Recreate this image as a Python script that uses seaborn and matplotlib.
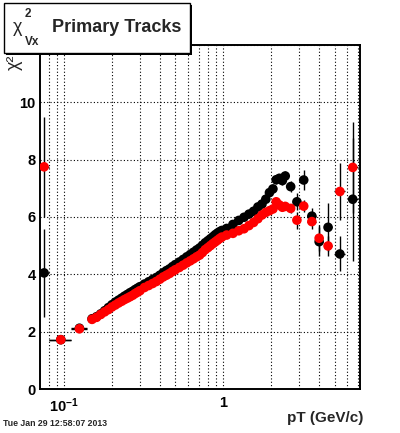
import pandas as pd
import seaborn as sns
import matplotlib
matplotlib.use("Agg")
import matplotlib.pyplot as plt
from matplotlib.patches import Rectangle
from matplotlib.ticker import MultipleLocator, LogLocator, NullFormatter

# dense pT bins (errors hidden under markers)
pt = [0.15, 0.16, 0.17, 0.18, 0.19, 0.20, 0.21, 0.22, 0.23, 0.24, 0.25, 0.26, 0.27, 0.28, 0.29, 0.30,
      0.32, 0.34, 0.36, 0.38, 0.40, 0.42, 0.44, 0.46, 0.48, 0.50,
      0.53, 0.56, 0.59, 0.62, 0.65, 0.68, 0.71, 0.74, 0.77, 0.80, 0.83, 0.86, 0.89, 0.92, 0.95, 0.98,
      1.05, 1.15, 1.25, 1.35, 1.45, 1.55, 1.65, 1.75, 1.85]
chi2_red = [2.43, 2.50, 2.60, 2.69, 2.77, 2.86, 2.93, 3.00, 3.06, 3.12, 3.17, 3.22, 3.27, 3.33, 3.38, 3.43,
            3.54, 3.61, 3.68, 3.75, 3.83, 3.91, 3.97, 4.03, 4.10, 4.16,
            4.24, 4.32, 4.40, 4.47, 4.54, 4.61, 4.67, 4.76, 4.86, 4.93, 5.00, 5.07, 5.13, 5.19, 5.25, 5.30,
            5.37, 5.43, 5.52, 5.59, 5.70, 5.81, 5.94, 6.07, 6.16]
chi2_black = [2.45, 2.52, 2.62, 2.73, 2.84, 2.94, 3.03, 3.10, 3.17, 3.24, 3.30, 3.36, 3.41, 3.47, 3.52, 3.57,
              3.66, 3.74, 3.82, 3.89, 3.97, 4.06, 4.13, 4.19, 4.27, 4.34,
              4.43, 4.52, 4.61, 4.69, 4.77, 4.85, 4.92, 5.01, 5.10, 5.17, 5.24, 5.31, 5.38, 5.44, 5.49, 5.53,
              5.60, 5.74, 5.88, 5.99, 6.10, 6.20, 6.35, 6.45, 6.62]

# bins with visible error bars
pt_e = [0.075, 0.0955, 0.125, 1.95, 2.05, 2.15, 2.25, 2.35, 2.45, 2.65, 2.9, 3.2, 3.6, 4.0, 4.55, 5.4, 6.5]
pt_lo = [0.070, 0.0805, 0.111, 1.90, 2.00, 2.10, 2.20, 2.30, 2.40, 2.55, 2.75, 3.05, 3.35, 3.80, 4.30, 4.95, 6.05]
pt_hi = [0.080, 0.111, 0.140, 2.00, 2.10, 2.20, 2.30, 2.40, 2.50, 2.75, 3.05, 3.35, 3.80, 4.25, 4.85, 5.85, 7.05]
red_e = [7.75, 1.72, 2.10, 6.22, 6.28, 6.53, 6.42, 6.34, 6.37, 6.30, 5.89, 6.38, 5.84, 5.26, 4.99, 6.89, 7.73]
red_sig = [1.74, 0.10, 0.10, 0.08, 0.09, 0.10, 0.11, 0.12, 0.14, 0.15, 0.30, 0.22, 0.25, 0.45, 0.35, 0.99, 1.60]
black_e = [4.05, 1.72, 2.12, 6.85, 6.98, 7.30, 7.35, 7.27, 7.43, 7.06, 6.53, 7.29, 6.03, 5.14, 5.64, 4.71, 6.62]
black_sig = [1.53, 0.10, 0.10, 0.10, 0.12, 0.14, 0.15, 0.16, 0.18, 0.20, 0.30, 0.35, 0.30, 0.50, 0.84, 0.61, 2.14]

y_ticks = [0, 2, 4, 6, 8, 10, 12]
y_ticklabels = ["0", "2", "4", "6", "8", "10", ""]  # "12" sits under the title pave

sns.set_style("white")
plt.rcParams["font.family"] = ["Liberation Sans", "DejaVu Sans"]
plt.rcParams["font.weight"] = "bold"
plt.rcParams["mathtext.fontset"] = "custom"
plt.rcParams["mathtext.rm"] = "Liberation Sans:bold"
plt.rcParams["mathtext.bf"] = "Liberation Sans:bold"

df = pd.concat([
  pd.DataFrame({"pt": pt + pt_e, "chi2": chi2_black + black_e, "set": "black"}),
  pd.DataFrame({"pt": pt + pt_e, "chi2": chi2_red + red_e, "set": "red"}),
], ignore_index=True)

fig = plt.figure(figsize=(4, 4.33), dpi=100)
ax = fig.add_axes([0.1, 0.1016, 0.8, 0.7945])

xerr = [[p - l for p, l in zip(pt_e, pt_lo)], [h - p for p, h in zip(pt_e, pt_hi)]]
ax.errorbar(pt_e, black_e, yerr=black_sig, xerr=xerr, fmt="none", ecolor="black", elinewidth=1, capsize=0, zorder=2)
ax.errorbar(pt_e, red_e, yerr=red_sig, xerr=xerr, fmt="none", ecolor="black", elinewidth=1, capsize=0, zorder=2)
sns.scatterplot(data=df, x="pt", y="chi2", hue="set", palette={"black": "black", "red": "red"},
                s=48, edgecolor="none", linewidth=0, legend=False, ax=ax, zorder=3)

ax.set_xscale("log")
ax.set_xlim(0.0707, 7.22)
ax.set_ylim(0, 12)
ax.set_xticks([0.1, 1], [r"$\mathbf{10^{-1}}$", "1"])
ax.xaxis.set_minor_locator(LogLocator(base=10, subs=range(2, 10)))
ax.xaxis.set_minor_formatter(NullFormatter())
ax.set_yticks(y_ticks, y_ticklabels)
ax.yaxis.set_minor_locator(MultipleLocator(0.5))

grid_kw = dict(color="black", linestyle=(0, (1, 2)), linewidth=0.8)
ax.xaxis.grid(True, which="both", **grid_kw)
ax.yaxis.grid(True, which="major", **grid_kw)
ax.set_axisbelow(True)

ax.tick_params(which="both", direction="in", top=False, right=False, width=0.8, colors="black")
ax.tick_params(which="major", length=7)
ax.tick_params(which="minor", length=3.5)
ax.tick_params(axis="y", labelsize=10.5, pad=3)
ax.tick_params(axis="x", labelsize=10.5, pad=5)
for s in ax.spines.values():
  s.set_linewidth(1.4)
  s.set_color("black")

ax.set_xlabel("pT (GeV/c)", fontsize=11, fontweight="bold", ha="right")
ax.xaxis.set_label_coords(1.01, -0.065)
ax.set_ylabel("χ²", fontsize=13, fontweight="normal")
ax.yaxis.set_label_coords(-0.055, 0.972)
ax.yaxis.label.set_ha("right")

# title pave with shadow
fig.add_artist(Rectangle((6 / 400, 1 - 55 / 433), 186 / 400, 50 / 433, transform=fig.transFigure,
                         facecolor="black", edgecolor="none", zorder=9))
fig.add_artist(Rectangle((4 / 400, 1 - 53 / 433), 186 / 400, 50 / 433, transform=fig.transFigure,
                         facecolor="white", edgecolor="black", linewidth=1, zorder=10))
fig.text(18 / 400, 1 - 27 / 433, "χ", fontsize=13, fontweight="normal", ha="center", va="center", zorder=11)
fig.text(28 / 400, 1 - 14 / 433, "2", fontsize=8.5, ha="center", va="center", zorder=11)
fig.text(32 / 400, 1 - 42 / 433, "Vx", fontsize=8.5, ha="center", va="center", zorder=11)
fig.text(117 / 400, 1 - 28 / 433, "Primary Tracks", fontsize=13, ha="center", va="center", zorder=11)

fig.text(3 / 400, 1 - 424 / 433, "Tue Jan 29 12:58:07 2013", fontsize=6.3, ha="left", va="center")

fig.savefig("out.png", dpi=100)
